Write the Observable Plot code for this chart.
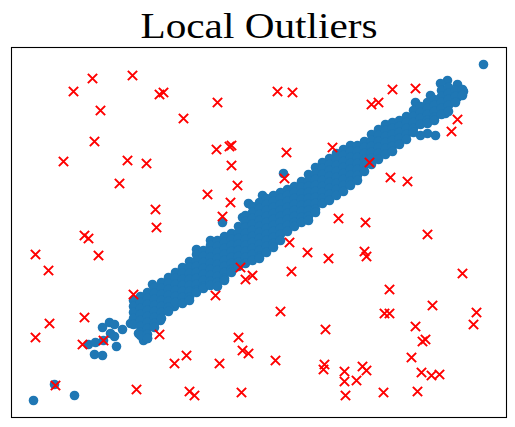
<!DOCTYPE html>
<html><head><meta charset="utf-8">
<script src="https://cdn.jsdelivr.net/npm/d3@7"></script>
<script src="https://cdn.jsdelivr.net/npm/@observablehq/plot@0.6"></script>
<style>body{margin:0;background:#fff}</style>
</head><body><div id="chart"></div>
<script>
const title = "Local Outliers";

// Inlier (blue) points. Sparse / edge ones first.
const inlierSparse = [
  [22,17],[63,22],[43,33],[83,63],[91,62],[105,71],[77,73],[84,75],[92,77],[91,90],[98,95],[103,93],
  [111,88],[99,84],[103,81],[119,94],[127,84],[132,77],[136,79],[141,133],[149,97],[163,111],[211,195],[272,244],
  [251,222],[237,214],[199,177],[185,168],[231,200],
  [472,353],[436,337],[429,334],[446,333],[452,326],[437,329],[434,325],[419,322],[446,320],[404,315],[434,304],
  [424,282],[416,284],[409,282]
];
// Dense band: each entry is an x value and the y values of the dots read in that column.
const inlierColumns = [
  [122,[117,111,105,99,93]],
  [129,[121,115,109,103,97,91,85,82]],
  [136,[125,119,113,107,101,95,89,83,79]],
  [143,[130,124,118,112,106,100,94,90]],
  [150,[135,129,123,117,111,105,99]],
  [157,[140,134,128,122,116,110,106]],
  [164,[145,139,133,127,121,115]],
  [171,[150,144,138,132,126,120,114]],
  [178,[156,150,144,138,132,126,120,117]],
  [185,[163,157,151,145,139,133,127,125]],
  [192,[167,161,155,149,143,137,131,129]],
  [199,[172,166,160,154,148,142,136,132]],
  [206,[177,171,165,159,153,147,141,135,131]],
  [213,[181,175,169,163,157,151,145,139,137]],
  [220,[184,178,172,166,160,154,148,145]],
  [227,[191,185,179,173,167,161,155,151]],
  [234,[202,196,190,184,178,172,166,160,154]],
  [241,[211,205,199,193,187,181,175,169,163,157]],
  [248,[215,209,203,197,191,185,179,173,167,161,159]],
  [255,[219,213,207,201,195,189,183,177,171,165]],
  [262,[222,216,210,204,198,192,186,180,174,170]],
  [269,[225,219,213,207,201,195,189,183,177]],
  [276,[228,222,216,210,204,198,192,186]],
  [283,[231,225,219,213,207,201,195,191]],
  [290,[236,230,224,218,212,206,200,195]],
  [297,[243,237,231,225,219,213,207,201,197]],
  [304,[250,244,238,232,226,220,214,208,205]],
  [311,[255,249,243,237,231,225,219,214]],
  [318,[259,253,247,241,235,229,223,217]],
  [325,[264,258,252,246,240,234,228,222]],
  [332,[268,262,256,250,244,238,232,226]],
  [339,[272,266,260,254,248,242,236,232]],
  [346,[272,266,260,254,248,242,237]],
  [353,[276,270,264,258,252,246]],
  [360,[283,277,271,265,259,253]],
  [367,[288,282,276,270,264,258]],
  [374,[293,287,281,275,269,263]],
  [381,[295,289,283,277,271,266]],
  [388,[297,291,285,279,273]],
  [395,[301,295,289,283,278]],
  [402,[307,301,295,289,285]],
  [409,[311,305,299,293]],
  [416,[315,309,303,297,294]],
  [423,[318,312,306,300,297]],
  [430,[327,321,315,309,303]],
  [437,[330,324,318,312,306]],
  [444,[327,321,315]],
  [451,[328,322]]
];
// Outliers (red crosses)
const outliers = [
  [62,326],[81,339],[121,342],[148,323],[152,325],[89,307],[206,315],[172,299],[83,276],[52,256],[116,257],[135,254],
  [205,268],[218,271],[220,272],[220,252],[108,234],[226,232],[196,223],[219,215],[144,208],[211,201],[145,190],
  [266,326],[281,325],[381,328],[404,329],[360,313],[367,315],[446,298],[440,286],[275,265],[321,270],[358,255],
  [273,239],[379,240],[396,236],[327,199],[354,195],
  [73,182],[77,179],[24,163],[87,162],[37,147],[229,150],[234,138],[241,142],[122,123],[204,122],[73,100],[38,94],
  [24,80],[71,73],[92,77],[148,83],[227,80],[231,67],[237,64],[175,62],[163,54],[208,54],[44,32],[125,28],[178,26],
  [183,22],[230,25],
  [416,183],[278,175],[296,165],[317,159],[353,166],[355,161],[280,146],[451,144],[378,128],[421,112],[269,106],
  [373,104],[378,104],[465,105],[462,93],[314,88],[404,91],[411,76],[414,78],[264,57],[400,60],[313,53],[312,48],
  [333,46],[351,51],[355,47],[333,36],[345,37],[410,45],[420,42],[428,43],[334,22],[372,25],[406,26]
];

const inliers = inlierSparse.concat(inlierColumns.flatMap(([x, ys]) => ys.map(y => [x, y])));

const chart = Plot.plot({
  width: 515, height: 427,
  marginTop: 47, marginLeft: 11, marginRight: 9, marginBottom: 10,
  x: {domain: [0, 495], axis: null},
  y: {domain: [0, 370], axis: null},
  marks: [
    Plot.dot(inliers, {x: d => d[0], y: d => d[1], r: 4.8, fill: "#1f77b4", stroke: "none"}),
    Plot.dot(outliers, {x: d => d[0], y: d => d[1], symbol: "times", r: 4.3, stroke: "red", strokeWidth: 2}),
    Plot.frame({stroke: "black", strokeWidth: 1.1}),
    Plot.text([title], {text: d => d, frameAnchor: "top", lineAnchor: "bottom", dy: -10, fontSize: 36,
      fontFamily: "Liberation Serif", fill: "black", className: "chart-title"})
  ]
});
// The reference title is set wider than plain Times at this cap height: stretch it to the measured width.
chart.querySelectorAll(".chart-title text").forEach(t => {
  t.setAttribute("textLength", 237);
  t.setAttribute("lengthAdjust", "spacingAndGlyphs");
});
document.getElementById("chart").appendChild(chart);
</script>
</body></html>
